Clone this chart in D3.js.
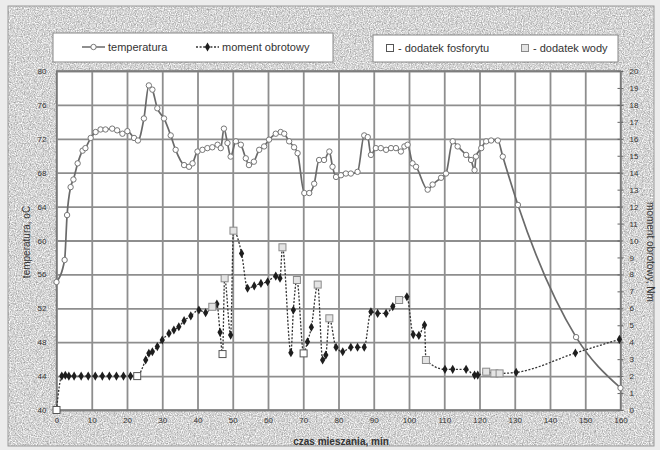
<!DOCTYPE html>
<html><head><meta charset="utf-8">
<script src="https://cdn.jsdelivr.net/npm/d3@7"></script>
<style>body{margin:0;background:#fff}svg{display:block}text{font-family:"Liberation Sans",Arial,sans-serif}</style>
</head><body><svg id="c" width="660" height="450"></svg>
<script>
// ---- data ----
const tempTime = [0,2.3,3.0,4.0,4.8,6.0,7.4,8.2,9.7,11.1,12.5,13.9,15.8,17.2,18.7,20.1,22.0,23.1,24.8,26.2,27.2,28.6,30.5,32.4,33.8,36.2,37.6,38.6,40.0,41.4,42.8,44.2,45.7,46.6,47.5,48.5,49.4,50.9,52.3,53.7,54.6,56.0,57.5,58.9,60.3,62.2,63.6,64.6,66.0,67.4,68.4,70.3,71.7,73.1,74.5,75.9,77.4,78.3,79.3,80.7,82.1,83.5,85.4,87.3,88.3,89.2,90.6,92.0,93.5,94.9,96.3,97.7,98.7,99.6,101.0,102.0,105.3,106.7,109.1,110.5,112.4,113.8,116.2,117.6,118.6,119.0,120.5,121.9,123.3,125.2,126.6,130.9,147.4,160];
const tempValue = [55.1,57.7,63.0,66.3,67.2,69.1,70.6,70.9,72.1,72.8,73.1,73.1,73.2,73.0,72.6,72.9,72.1,71.8,74.4,78.3,77.8,75.6,74.4,72.4,70.7,68.9,68.7,69.1,70.5,70.7,70.9,71.0,71.3,70.9,73.2,71.5,69.9,71.7,71.3,69.7,68.9,69.3,70.7,71.1,71.9,72.6,72.8,72.6,71.7,71.0,70.3,65.6,65.6,66.7,69.5,69.5,70.5,68.7,67.5,67.7,67.9,67.9,68.1,72.4,72.2,70.1,70.9,70.9,70.7,70.9,70.9,70.5,71.1,71.3,69.1,68.7,66.0,66.6,67.4,67.9,71.7,71.1,70.1,69.5,68.3,69.9,70.9,71.7,71.8,71.8,69.9,64.2,48.6,42.6];

const torqueTime = [0,1.5,2.5,3.5,5,7,9,11,13,15,17,19,21,22.9,25.3,26.2,27.2,28.6,30,31.9,33.3,34.7,36.2,38.1,40.4,42.3,44.2,45.5,46.4,47.1,47.7,49.4,50.2,52.5,54.2,56.1,58,59.9,62.2,63.4,64.1,66.5,67.2,68.2,70.1,71.2,72.3,74.1,75.5,76.4,77.4,79.3,81.2,83.5,85.4,87.3,89.2,91.1,93.5,95.4,97.2,99.4,101.2,102.8,104.4,104.8,110.2,112.4,116.2,118.6,119.5,121.9,124.2,125.7,130.4,147.2,159.7];
const torqueValue = [0,2.0,2.05,2.0,2.0,2.0,2.0,2.0,2.0,2.0,2.0,2.0,2.0,2.0,2.95,3.35,3.44,3.74,4.13,4.52,4.72,4.91,5.27,5.55,5.9,5.74,6.09,6.25,4.58,3.3,7.77,4.42,10.58,9.24,7.18,7.32,7.47,7.57,7.9,7.77,9.6,3.38,5.9,7.67,3.34,4.03,4.88,7.4,2.95,3.24,5.41,3.7,3.44,3.7,3.7,3.7,5.8,5.7,5.7,6.1,6.49,6.68,4.45,4.4,5.01,2.95,2.4,2.4,2.4,2.06,2.06,2.26,2.16,2.16,2.22,3.36,4.17];

const phosphateTime = [0,22.9,47.1,70.1];
const waterTime = [44.2,47.7,50.2,64.1,68.2,74.1,77.4,97.2,104.8,121.9,124.2,125.7];

const xTicks = d3.range(0,161,10);
const tempTicks = d3.range(40,81,4);
const torqueTicks = d3.range(0,21,1);

// ---- layout ----
const svg = d3.select("#c");
const P = {l:56.5, r:620.5, t:71, b:410};
const x = d3.scaleLinear().domain([0,160]).range([P.l,P.r]);
const yL = d3.scaleLinear().domain([40,80]).range([P.b,P.t]);
const yR = d3.scaleLinear().domain([0,20]).range([P.b,P.t]);

// background texture
const defs = svg.append("defs");
const f = defs.append("filter").attr("id","noise").attr("x",0).attr("y",0).attr("width","100%").attr("height","100%")
  .attr("color-interpolation-filters","sRGB");
f.append("feTurbulence").attr("type","fractalNoise").attr("baseFrequency",0.85).attr("numOctaves",2).attr("seed",3).attr("result","n");
f.append("feColorMatrix").attr("in","n").attr("type","matrix")
 .attr("values","0.6 0 0 0 0.53  0.6 0 0 0 0.53  0.6 0 0 0 0.53  0 0 0 0 1");
svg.append("rect").attr("width",660).attr("height",450).attr("fill","#ececec");
svg.append("rect").attr("x",8).attr("y",6).attr("width",646).attr("height",440).attr("filter","url(#noise)");
svg.append("rect").attr("x",8).attr("y",6).attr("width",646).attr("height",440).attr("fill","none").attr("stroke","#9a9a9a").attr("stroke-width",1);

// plot area
svg.append("rect").attr("x",P.l).attr("y",P.t).attr("width",P.r-P.l).attr("height",P.b-P.t).attr("fill","#fff");

// grid
const gridColor = "#8e8e8e";
svg.append("g").attr("transform",`translate(0,${P.b})`)
  .call(d3.axisBottom(x).tickValues(xTicks).tickSize(-(P.b-P.t)).tickFormat(""))
  .call(g=>{g.select(".domain").remove(); g.selectAll("line").attr("stroke",gridColor).attr("stroke-width",1.8);});
svg.append("g").attr("transform",`translate(${P.l},0)`)
  .call(d3.axisLeft(yL).tickValues(tempTicks).tickSize(-(P.r-P.l)).tickFormat(""))
  .call(g=>{g.select(".domain").remove(); g.selectAll("line").attr("stroke",gridColor).attr("stroke-width",1.8);});

// axes labels
const lab = g=>{g.select(".domain").remove(); g.selectAll("text").attr("font-size",8).attr("fill","#333").attr("font-family","Liberation Sans, Arial, sans-serif");};
svg.append("g").attr("transform",`translate(0,${P.b})`)
  .call(d3.axisBottom(x).tickValues(xTicks).tickSize(0).tickPadding(7)).call(lab);
svg.append("g").attr("transform",`translate(${P.l},0)`)
  .call(d3.axisLeft(yL).tickValues(tempTicks).tickSize(0).tickPadding(10)).call(lab);
svg.append("g").attr("transform",`translate(${P.r},0)`)
  .call(d3.axisRight(yR).tickValues(torqueTicks).tickSizeInner(3).tickSizeOuter(0).tickPadding(6)).call(lab)
  .call(g=>g.selectAll("line").attr("stroke","#666").attr("x1",-3));

// frame
svg.append("rect").attr("x",P.l).attr("y",P.t).attr("width",P.r-P.l).attr("height",P.b-P.t)
  .attr("fill","none").attr("stroke","#777").attr("stroke-width",1.4);

// torque line
const tData = torqueTime.map((t,i)=>({t,v:torqueValue[i]}));
svg.append("path").datum(tData)
  .attr("d", d3.line().x(d=>x(d.t)).y(d=>yR(d.v)).curve(d3.curveMonotoneX))
  .attr("fill","none").attr("stroke","#333").attr("stroke-width",1.3).attr("stroke-dasharray","2,1.6");

// temperature line
const tmp = tempTime.map((t,i)=>({t,v:tempValue[i]}));
svg.append("path").datum(tmp)
  .attr("d", d3.line().x(d=>x(d.t)).y(d=>yL(d.v)).curve(d3.curveMonotoneX))
  .attr("fill","none").attr("stroke","#6a6a6a").attr("stroke-width",1.7);
svg.append("g").selectAll("circle").data(tmp).join("circle")
  .attr("cx",d=>x(d.t)).attr("cy",d=>yL(d.v)).attr("r",2.7)
  .attr("fill","#fff").attr("stroke","#777").attr("stroke-width",1);

// torque markers
const special = new Set([...phosphateTime,...waterTime]);
const diamond = d3.symbol().type(d3.symbolDiamond).size(24);
svg.append("g").selectAll("path").data(tData.filter(d=>!special.has(d.t))).join("path")
  .attr("d",diamond).attr("transform",d=>`translate(${x(d.t)},${yR(d.v)})`).attr("fill","#1e1e1e");

const valAt = t => torqueValue[torqueTime.indexOf(t)];
svg.append("g").selectAll("rect").data(waterTime).join("rect")
  .attr("x",t=>x(t)-3.5).attr("y",t=>yR(valAt(t))-3.5).attr("width",7).attr("height",7)
  .attr("fill","#e4e4e4").attr("stroke","#8a8a8a").attr("stroke-width",1);
svg.append("g").selectAll("rect").data(phosphateTime).join("rect")
  .attr("x",t=>x(t)-3.5).attr("y",t=>yR(valAt(t))-3.5).attr("width",7).attr("height",7)
  .attr("fill","#fff").attr("stroke","#555").attr("stroke-width",1);

// legends
const L1 = svg.append("g");
L1.append("rect").attr("x",53).attr("y",33).attr("width",280).attr("height",29).attr("fill","#fff").attr("stroke","#888");
L1.append("line").attr("x1",82).attr("x2",105).attr("y1",47).attr("y2",47).attr("stroke","#6a6a6a").attr("stroke-width",1.5);
L1.append("circle").attr("cx",93.5).attr("cy",47).attr("r",2.7).attr("fill","#fff").attr("stroke","#777");
L1.append("text").attr("x",108).attr("y",51).attr("font-size",11).attr("fill","#333").text("temperatura");
L1.append("line").attr("x1",196).attr("x2",219).attr("y1",47).attr("y2",47).attr("stroke","#333").attr("stroke-width",1.3).attr("stroke-dasharray","2,1.6");
L1.append("path").attr("d",diamond).attr("transform","translate(207.5,47)").attr("fill","#1e1e1e");
L1.append("text").attr("x",222).attr("y",51).attr("font-size",11).attr("fill","#333").text("moment obrotowy");

const L2 = svg.append("g");
L2.append("rect").attr("x",373).attr("y",35).attr("width",245).attr("height",27).attr("fill","#fff").attr("stroke","#888");
L2.append("rect").attr("x",386.5).attr("y",44.5).attr("width",7).attr("height",7).attr("fill","#fff").attr("stroke","#555");
L2.append("text").attr("x",398).attr("y",52).attr("font-size",11).attr("fill","#333").text("- dodatek fosforytu");
L2.append("rect").attr("x",521.5).attr("y",44.5).attr("width",7).attr("height",7).attr("fill","#e4e4e4").attr("stroke","#8a8a8a");
L2.append("text").attr("x",533).attr("y",52).attr("font-size",11).attr("fill","#333").text("- dodatek wody");

// axis titles
svg.append("text").attr("transform","translate(30,242) rotate(-90)").attr("text-anchor","middle")
  .attr("font-size",10).attr("fill","#333").text("temperatura, oC");
svg.append("text").attr("transform","translate(647,252) rotate(90)").attr("text-anchor","middle")
  .attr("font-size",10).attr("fill","#333").text("moment obrotowy, Nm");
svg.append("text").attr("x",341).attr("y",445).attr("text-anchor","middle")
  .attr("font-size",10).attr("font-weight","bold").attr("fill","#333").text("czas mieszania, min");
</script></body></html>
